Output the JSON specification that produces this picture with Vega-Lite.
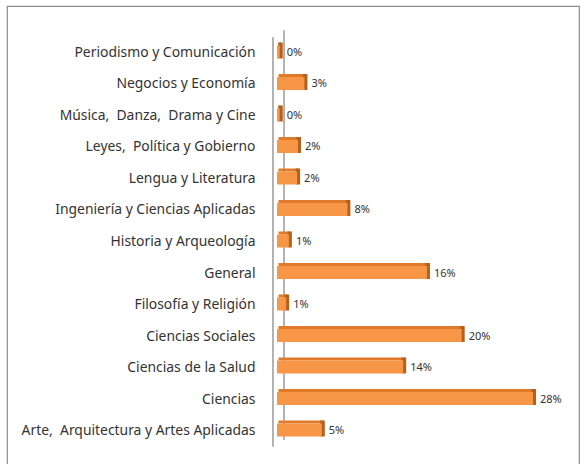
{
  "$schema": "https://vega.github.io/schema/vega-lite/v6.json",
  "autosize": {"type": "none"},
  "padding": {"left": 7, "top": 6, "right": 5, "bottom": -14},
  "width": 572,
  "height": 472,
  "background": "white",
  "config": {
    "view": {"stroke": "#8c8c8c", "strokeWidth": 1.2},
    "text": {"font": "Noto Sans"}
  },
  "data": {
    "values": [
      {"area": "Periodismo y Comunicación", "pct": 0.003},
      {"area": "Negocios y Economía", "pct": 0.030},
      {"area": "Música,\u00a0 Danza,\u00a0 Drama y Cine", "pct": 0.003},
      {"area": "Leyes,\u00a0 Política y Gobierno", "pct": 0.023},
      {"area": "Lengua y Literatura", "pct": 0.022},
      {"area": "Ingeniería y Ciencias Aplicadas", "pct": 0.077},
      {"area": "Historia y Arqueología", "pct": 0.013},
      {"area": "General", "pct": 0.164},
      {"area": "Filosofía y Religión", "pct": 0.010},
      {"area": "Ciencias Sociales", "pct": 0.202},
      {"area": "Ciencias de la Salud", "pct": 0.138},
      {"area": "Ciencias", "pct": 0.280},
      {"area": "Arte,\u00a0 Arquitectura y Artes Aplicadas", "pct": 0.049}
    ]
  },
  "encoding": {
    "y": {
      "field": "area",
      "type": "nominal",
      "sort": null,
      "scale": {"paddingInner": 0, "paddingOuter": 0.992},
      "axis": {
        "title": null,
        "orient": "left",
        "offset": -248,
        "ticks": false,
        "domain": false,
        "grid": false,
        "labelPadding": 0,
        "labelFont": "Noto Sans",
        "labelFontSize": 13.9,
        "labelColor": "#333333",
        "labelLimit": 400
      }
    },
    "x": {
      "field": "pct",
      "type": "quantitative",
      "scale": {"domain": [-0.2953, 0.3303], "nice": false, "zero": false},
      "axis": null
    }
  },
  "layer": [
    {
      "mark": {"type": "bar", "fill": null, "stroke": "#9a9a9a", "strokeWidth": 1, "size": 31.5},
      "encoding": {"x": {"datum": -0.0044}, "x2": {"datum": -0.0044}}
    },
    {
      "mark": {"type": "bar", "fill": null, "stroke": "#9a9a9a", "strokeWidth": 1, "size": 31.5, "yOffset": -7},
      "encoding": {"x": {"datum": 0.0077}, "x2": {"datum": 0.0077}}
    },
    {
      "mark": {"type": "bar", "color": "#e07a2a", "size": 3, "yOffset": -9, "xOffset": 1.5}
    },
    {
      "mark": {"type": "bar", "fill": null, "stroke": "#b5601c", "strokeWidth": 3, "size": 13, "xOffset": 1.5, "yOffset": -2.5},
      "encoding": {"x2": {"field": "pct"}}
    },
    {
      "mark": {"type": "bar", "color": "#f79646", "size": 13, "yOffset": -1}
    },
    {
      "mark": {"type": "text", "align": "left", "baseline": "middle", "dx": 7, "fontSize": 11, "color": "#333333"},
      "encoding": {"text": {"field": "pct", "type": "quantitative", "format": ".0%"}}
    }
  ]
}
